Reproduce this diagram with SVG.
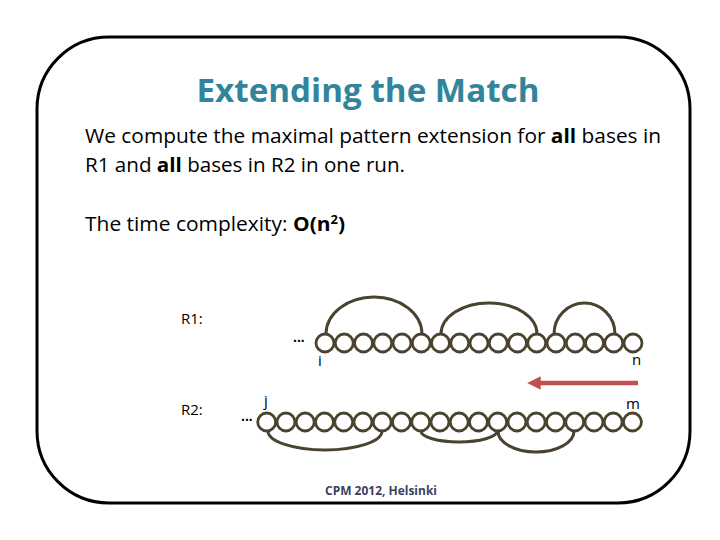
<svg xmlns="http://www.w3.org/2000/svg" width="720" height="540" viewBox="0 0 720 540">
<style>
.frame{fill:#fff;stroke:#000;stroke-width:3}
.title{font-family:"Open Sans","Liberation Sans",sans-serif;font-weight:bold;font-size:32px;fill:#31849b}
.body{font-family:"Open Sans","Liberation Sans",sans-serif;font-size:19.5px;fill:#000}
.b{font-weight:bold}
.lab{font-family:"Open Sans","Liberation Sans",sans-serif;font-size:15px;fill:#000}
.foot{font-family:"Open Sans","Liberation Sans",sans-serif;font-size:11.5px;font-weight:bold;fill:#3f3f5f}
.c{fill:none;stroke:#4a4330;stroke-width:2.8}
.arc{fill:none;stroke:#4a4330;stroke-width:3}
.dots{font-family:"Liberation Sans",sans-serif;font-size:14px;font-weight:bold;fill:#000}
</style>
<defs>
<marker id="ah" viewBox="0 0 10 10" refX="2" refY="5" markerWidth="3" markerHeight="3" orient="auto-start-reverse" markerUnits="strokeWidth">
<path d="M0,0 L10,5 L0,10 Z" fill="#c0504d"/>
</marker>
<circle id="bead" r="9" class="c"/>
</defs>
<rect class="frame" x="37" y="37" width="653" height="466" rx="72" ry="72"/>
<g id="title"><text class="title" x="368" y="102" text-anchor="middle" textLength="343" lengthAdjust="spacingAndGlyphs">Extending the Match</text></g>
<g id="text">
<text class="body" x="85" y="143" textLength="576" lengthAdjust="spacingAndGlyphs">We compute the maximal pattern extension for <tspan class="b">all</tspan> bases in</text>
<text class="body" x="85" y="172" textLength="320" lengthAdjust="spacingAndGlyphs">R1 and <tspan class="b">all</tspan> bases in R2 in one run.</text>
<text class="body" x="85" y="231" textLength="260" lengthAdjust="spacingAndGlyphs">The time complexity: <tspan class="b">O(n</tspan><tspan class="b" font-size="12" dy="-7">2</tspan><tspan class="b" dy="7">)</tspan></text>
</g>
<g id="R1">
<text class="lab" x="181" y="324">R1:</text>
<text class="dots" x="293" y="342">...</text>
<g>
<use href="#bead" x="325" y="343"/><use href="#bead" x="344.25" y="343"/><use href="#bead" x="363.5" y="343"/><use href="#bead" x="382.75" y="343"/><use href="#bead" x="402" y="343"/><use href="#bead" x="421.25" y="343"/><use href="#bead" x="440.5" y="343"/><use href="#bead" x="459.75" y="343"/><use href="#bead" x="479" y="343"/><use href="#bead" x="498.25" y="343"/><use href="#bead" x="517.5" y="343"/><use href="#bead" x="536.75" y="343"/><use href="#bead" x="556" y="343"/><use href="#bead" x="575.25" y="343"/><use href="#bead" x="594.5" y="343"/><use href="#bead" x="613.75" y="343"/><use href="#bead" x="633" y="343"/>
</g>
<text class="lab" x="318" y="366">i</text>
<text class="lab" x="632" y="365">n</text>
</g>
<g id="R2">
<text class="lab" x="181" y="415">R2:</text>
<text class="dots" x="241" y="421">...</text>
<g>
<use href="#bead" x="266.7" y="422"/><use href="#bead" x="285.95" y="422"/><use href="#bead" x="305.2" y="422"/><use href="#bead" x="324.45" y="422"/><use href="#bead" x="343.7" y="422"/><use href="#bead" x="362.95" y="422"/><use href="#bead" x="382.2" y="422"/><use href="#bead" x="401.45" y="422"/><use href="#bead" x="420.7" y="422"/><use href="#bead" x="439.95" y="422"/><use href="#bead" x="459.2" y="422"/><use href="#bead" x="478.45" y="422"/><use href="#bead" x="497.7" y="422"/><use href="#bead" x="516.95" y="422"/><use href="#bead" x="536.2" y="422"/><use href="#bead" x="555.45" y="422"/><use href="#bead" x="574.7" y="422"/><use href="#bead" x="593.95" y="422"/><use href="#bead" x="613.2" y="422"/><use href="#bead" x="632.45" y="422"/>
</g>
<text class="lab" x="264" y="406">j</text>
<text class="lab" x="626" y="409">m</text>
</g>
<g id="connectors">
<path class="arc" d="M326,334 A48,37 0 0 1 422,334"/>
<path class="arc" d="M441,334 A48,31 0 0 1 537,334"/>
<path class="arc" d="M554,334 A30.5,31 0 0 1 615,334"/>
<path class="arc" d="M268,431 A57,19 0 0 0 382,431"/>
<path class="arc" d="M421,431 A38,11 0 0 0 497,431"/>
<path class="arc" d="M498,431 A38,21 0 0 0 574,431"/>
<line x1="638" y1="383" x2="538" y2="383" stroke="#c0504d" stroke-width="4.5" marker-end="url(#ah)"/>
</g>
<g id="footer"><text class="foot" x="381" y="495" text-anchor="middle" textLength="112" lengthAdjust="spacingAndGlyphs">CPM 2012, Helsinki</text></g>
</svg>
